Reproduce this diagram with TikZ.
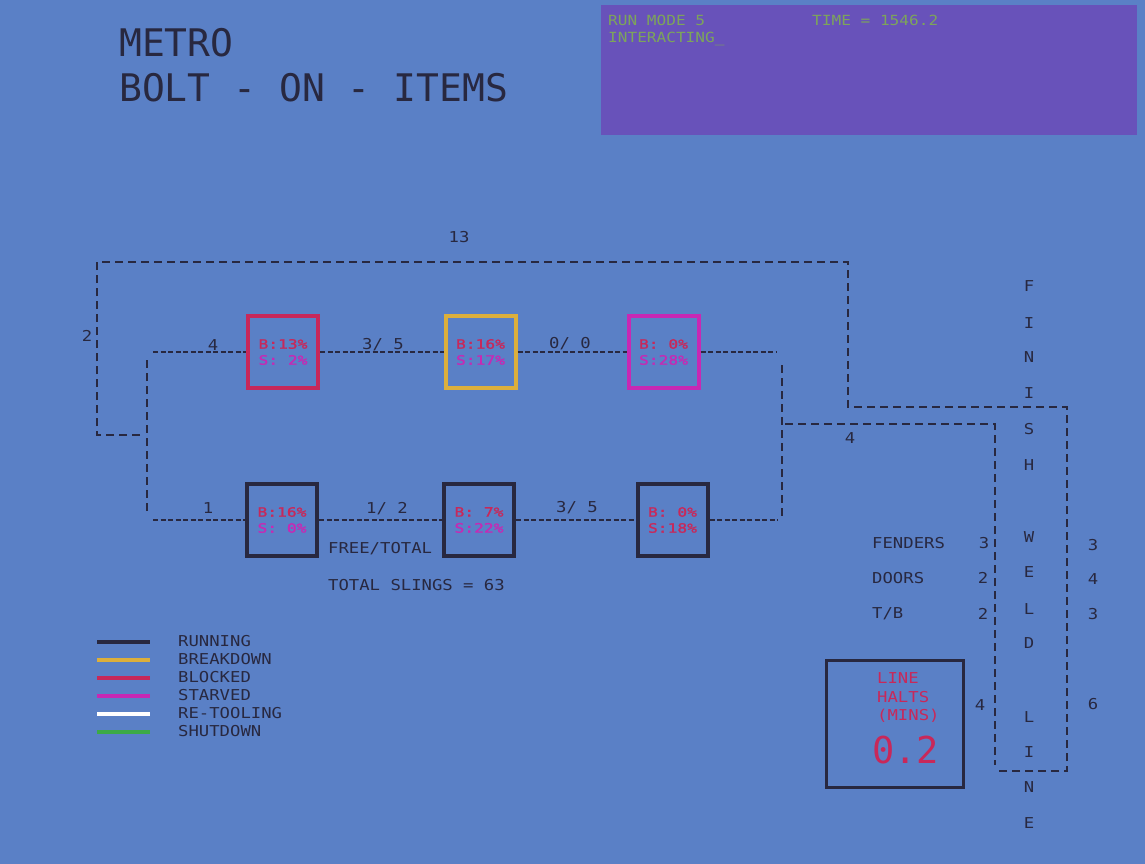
\documentclass[tikz,border=0pt]{standalone}
\usepackage{fontspec}
\newfontfamily\vecfont[FakeStretch=1.15]{DejaVu Sans Mono}
\newfontfamily\boxfont[FakeStretch=1.25,FakeBold=1.2]{DejaVu Sans Mono}
\newfontfamily\bigfont{DejaVu Sans Mono}
\definecolor{bg}{RGB}{90,128,198}
\definecolor{hdr}{RGB}{104,82,186}
\definecolor{ink}{RGB}{40,40,64}
\definecolor{blk}{RGB}{200,40,90}
\definecolor{stv}{RGB}{200,40,180}
\definecolor{brk}{RGB}{220,175,60}
\definecolor{hgreen}{RGB}{125,165,90}
\definecolor{sgreen}{RGB}{60,170,70}
\tikzset{
  lbl/.style={font=\vecfont\fontsize{15}{15}\selectfont, text=ink, inner sep=0pt},
  hlbl/.style={font=\vecfont\fontsize{14}{14}\selectfont, text=hgreen, inner sep=0pt, anchor=west},
  ttl/.style={font=\bigfont\fontsize{38}{38}\selectfont, text=ink, inner sep=0pt, anchor=west},
  stat/.style={line width=4pt, minimum width=70pt, minimum height=72pt, inner sep=0pt, align=left,
               font=\boxfont\fontsize{13}{16}\selectfont},
  outerdash/.style={draw=ink, line width=1.5pt, dash pattern=on 8pt off 5pt},
  innerdash/.style={draw=ink, line width=1.3pt, dash pattern=on 5pt off 2.5pt},
  leg/.style={line width=4pt},
}
\begin{document}
\begin{tikzpicture}[x=1pt,y=-1pt]
\fill[bg] (0,0) rectangle (1145,864);
\useasboundingbox (0,0) rectangle (1145,864);
% header panel
\fill[hdr] (601,5) rectangle (1137,135);
\node[hlbl] (run) at (608,20) {RUN MODE 5};
\node[hlbl] (time) at (812,20) {TIME = 1546.2};
\node[hlbl] (inter) at (608,39) {INTERACTING\_};
% title
\node[ttl] (t1) at (119,42.5) {METRO};
\node[ttl] (t2) at (119,87.5) {BOLT - ON - ITEMS};

% station boxes
\node[stat, draw=blk] (b1) at (283,352) {\textcolor{blk}{B:13\%}\\\textcolor{stv}{S:~2\%}};
\node[stat, draw=brk] (b2) at (480.5,352) {\textcolor{blk}{B:16\%}\\\textcolor{stv}{S:17\%}};
\node[stat, draw=stv] (b3) at (663.5,352) {\textcolor{blk}{B:~0\%}\\\textcolor{stv}{S:28\%}};
\node[stat, draw=ink] (b4) at (282,520) {\textcolor{blk}{B:16\%}\\\textcolor{stv}{S:~0\%}};
\node[stat, draw=ink] (b5) at (479,520) {\textcolor{blk}{B:~7\%}\\\textcolor{stv}{S:22\%}};
\node[stat, draw=ink] (b6) at (672.5,520) {\textcolor{blk}{B:~0\%}\\\textcolor{blk}{S:18\%}};

% coordinates
\coordinate (tl) at (153,352);
\coordinate (tr) at (776,352);
\coordinate (bl) at (153,520);
\coordinate (br) at (778,520);
\coordinate (lv1) at (147,360);
\coordinate (lv2) at (147,514);
\coordinate (rv1) at (782,365);
\coordinate (rv2) at (782,520);
\coordinate (o1) at (140,435);
\coordinate (o2) at (97,435);
\coordinate (o3) at (97,262);
\coordinate (o4) at (848,262);
\coordinate (o5) at (848,407);
\coordinate (o6) at (1067,407);
\coordinate (o7) at (1067,771);
\coordinate (o8) at (997,771);
\coordinate (i1) at (785,424);
\coordinate (i2) at (995,424);
\coordinate (i3) at (995,765);

% inner loop
\draw[innerdash] (tl) -- (b1.west);
\draw[innerdash] (b1.east) -- (b2.west);
\draw[innerdash] (b2.east) -- (b3.west);
\draw[innerdash] (b3.east) -- (tr);
\draw[innerdash] (bl) -- (b4.west);
\draw[innerdash] (b4.east) -- (b5.west);
\draw[innerdash] (b5.east) -- (b6.west);
\draw[innerdash] (b6.east) -- (br);
\draw[outerdash] (lv1) -- (lv2);
\draw[outerdash] (rv1) -- (rv2);
% outer loop
\draw[outerdash] (o1) -- (o2) -- (o3) -- (o4) -- (o5) -- (o6) -- (o7) -- (o8);
\draw[outerdash] (i1) -- (i2) -- (i3);

% labels on connectors
\node[lbl] (n13) at (459,237) {13};
\node[lbl] (n2) at (87,336) {2};
\node[lbl] (n4a) at (213,345) {4};
\node[lbl] (n35a) at (383,345) {3/~5};
\node[lbl] (n00) at (570,344) {0/~0};
\node[lbl] (n4b) at (850,438) {4};
\node[lbl] (n1) at (208,508) {1};
\node[lbl] (n12) at (387,509) {1/~2};
\node[lbl] (n35b) at (577,508) {3/~5};
\node[lbl, anchor=west] (free) at (328,549) {FREE/TOTAL};
\node[lbl, anchor=west] (slings) at (328,585) {TOTAL SLINGS = 63};

% finish weld line
\node[lbl, anchor=west] (fend) at (872,543) {FENDERS};
\node[lbl, anchor=west] (doors) at (872,578) {DOORS};
\node[lbl, anchor=west] (tb) at (872,614) {T/B};
\node[lbl] (f3) at (984,543) {3};
\node[lbl] (d2) at (983,578) {2};
\node[lbl] (tb2) at (983,614) {2};
\node[lbl] (l4) at (980,705) {4};
\node[lbl] (r3) at (1093,545) {3};
\node[lbl] (r4) at (1093,579) {4};
\node[lbl] (r3b) at (1093,614) {3};
\node[lbl] (r6) at (1093,704) {6};
\foreach \ch/\yy [count=\k] in {F/286,I/323,N/357,I/393,S/429,H/465,W/537,E/572,L/609,D/643,L/717,I/752,N/787,E/823}
  \node[lbl] (fw\k) at (1029,\yy) {\ch};

% line halts
\node[draw=ink, line width=3.5pt, minimum width=137pt, minimum height=127pt, inner sep=0pt] (halts) at (895,724) {};
\node[lbl, text=blk, anchor=west] (hl1) at (877,678) {LINE};
\node[lbl, text=blk, anchor=west] (hl2) at (877,697) {HALTS};
\node[lbl, text=blk, anchor=west] (hl3) at (877,716) {(MINS)};
\node[font=\bigfont\fontsize{37}{37}\selectfont, text=blk, inner sep=0pt, anchor=west] (hv) at (872,750) {0.2};

% legend
\draw[leg, ink] (97,642) -- (150,642);
\draw[leg, brk] (97,660) -- (150,660);
\draw[leg, blk] (97,678) -- (150,678);
\draw[leg, stv] (97,696) -- (150,696);
\draw[leg, white] (97,714) -- (150,714);
\draw[leg, sgreen] (97,732) -- (150,732);
\node[lbl, anchor=west] (lg1) at (178,641) {RUNNING};
\node[lbl, anchor=west] (lg2) at (178,659) {BREAKDOWN};
\node[lbl, anchor=west] (lg3) at (178,677) {BLOCKED};
\node[lbl, anchor=west] (lg4) at (178,695) {STARVED};
\node[lbl, anchor=west] (lg5) at (178,713) {RE-TOOLING};
\node[lbl, anchor=west] (lg6) at (178,731) {SHUTDOWN};
\end{tikzpicture}
\end{document}
